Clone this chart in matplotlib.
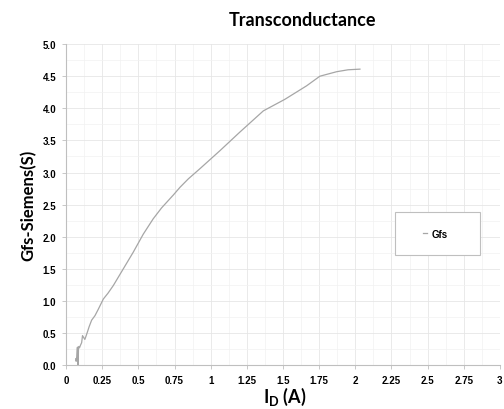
import matplotlib.pyplot as plt
from matplotlib.patches import Rectangle
from matplotlib.ticker import FixedLocator, MultipleLocator

# drain current (A) vs transconductance (S)
id_amps = [0.068, 0.070, 0.074, 0.077, 0.080, 0.082, 0.084, 0.086, 0.089, 0.093,
           0.100, 0.108, 0.114, 0.122, 0.130, 0.138, 0.147, 0.160, 0.177, 0.200,
           0.223, 0.258, 0.290, 0.327, 0.396, 0.465, 0.534, 0.603, 0.661, 0.742,
           0.788, 0.845, 0.926, 1.064, 1.202, 1.364, 1.513, 1.663, 1.755, 1.871,
           1.950, 2.032]
gfs = [0.10, 0.06, 0.13, 0.27, 0.28, 0.02, 0.00, 0.25, 0.29, 0.27,
       0.31, 0.35, 0.46, 0.43, 0.40, 0.45, 0.51, 0.60, 0.70, 0.77,
       0.87, 1.03, 1.12, 1.24, 1.50, 1.76, 2.04, 2.28, 2.45, 2.65,
       2.77, 2.90, 3.06, 3.34, 3.63, 3.96, 4.14, 4.35, 4.50, 4.57,
       4.60, 4.61]

x_ticks = [0, 0.25, 0.5, 0.75, 1, 1.25, 1.5, 1.75, 2, 2.25, 2.5, 2.75, 3]
x_tick_labels = ['0', '0.25', '0.5', '0.75', '1', '1.25', '1.5', '1.75', '2',
                 '2.25', '2.5', '2.75', '3']
y_ticks = [0.0, 0.5, 1.0, 1.5, 2.0, 2.5, 3.0, 3.5, 4.0, 4.5, 5.0]

plt.rcParams['mathtext.fontset'] = 'custom'
plt.rcParams['mathtext.bf'] = 'Lato:bold'
plt.rcParams['mathtext.rm'] = 'Lato:bold'

fig = plt.figure(figsize=(5.04, 4.10), dpi=100)
ax = fig.add_axes([0.131, 0.107, 0.861, 0.783])

ax.plot(id_amps, gfs, color='#a6a6a6', lw=0.9, label='Gfs')

ax.set_xlim(0, 3)
ax.set_ylim(0, 5)
ax.xaxis.set_major_locator(FixedLocator(x_ticks))
ax.set_xticklabels(x_tick_labels)
ax.set_yticks(y_ticks)
ax.set_yticklabels([f'{v:.1f}' for v in y_ticks])
ax.xaxis.set_minor_locator(MultipleLocator(0.125))
ax.yaxis.set_minor_locator(MultipleLocator(0.25))

ax.grid(which='major', color='#e6e6e6', lw=0.6)
ax.grid(which='minor', color='#f2f2f2', lw=0.5)
ax.set_axisbelow(True)

for s in ['top', 'right']:
    ax.spines[s].set_visible(False)
for s in ['left', 'bottom']:
    ax.spines[s].set_color('#bfbfbf')
    ax.spines[s].set_linewidth(0.8)

ax.tick_params(which='major', length=3, width=0.6, color='#bfbfbf', pad=4)
ax.tick_params(which='minor', length=0)
for lbl in ax.get_xticklabels() + ax.get_yticklabels():
    lbl.set_fontfamily('Liberation Sans')
    lbl.set_fontweight('bold')
    lbl.set_fontsize(7)

ax.set_ylabel('Gfs-Siemens(S)', fontfamily='Lato', fontweight='bold',
              fontsize=12)
ax.yaxis.set_label_coords(-0.068, 0.5)
ax.set_xlabel(r'$\mathbf{I_D}$ (A)', fontfamily='Lato', fontweight='bold',
              fontsize=13)
ax.xaxis.set_label_coords(0.504, -0.062)
fig.text(0.601, 0.95, 'Transconductance', ha='center', va='center',
         fontfamily='Lato', fontweight='bold', fontsize=13)

# legend box with the entry centred inside it
ax.add_patch(Rectangle((0.758, 0.343), 0.196, 0.134, transform=ax.transAxes,
                       facecolor='white', edgecolor='#bfbfbf', lw=0.8,
                       zorder=4))
ax.legend(loc='center', bbox_to_anchor=(0.851, 0.41), frameon=False,
          handlelength=0.4, handletextpad=0.4, borderpad=0,
          prop={'family': 'Liberation Sans', 'weight': 'bold', 'size': 7})

fig.savefig('out.png', dpi=100)
